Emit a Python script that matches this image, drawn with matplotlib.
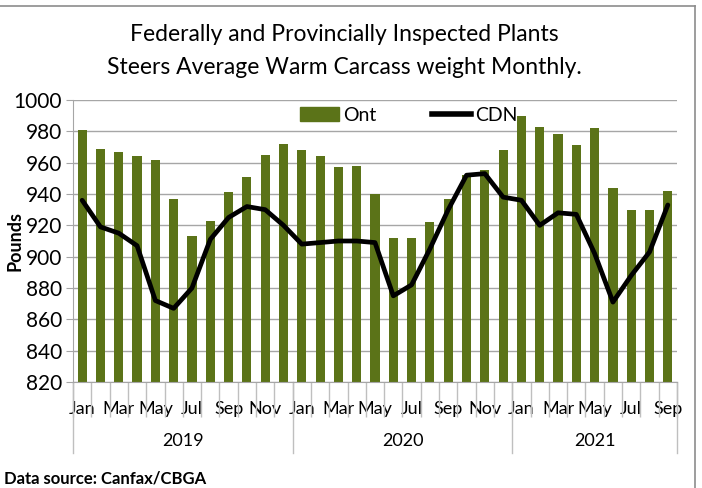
import numpy as np
import matplotlib.pyplot as plt
import matplotlib.transforms as mtransforms
from matplotlib.lines import Line2D
from matplotlib.patches import Patch

plt.rcParams['font.family'] = ['Lato', 'DejaVu Sans']

years = ['2019', '2020', '2021']
months_per_year = [12, 12, 9]
month_names = ['Jan', 'Feb', 'Mar', 'Apr', 'May', 'Jun',
               'Jul', 'Aug', 'Sep', 'Oct', 'Nov', 'Dec']

ont = [981, 969, 967, 964, 962, 937, 913, 923, 941, 951, 965, 972,
       968, 964, 957, 958, 940, 912, 912, 922, 937, 952, 955, 968,
       990, 983, 978, 971, 982, 944, 930, 930, 942]
cdn = [936, 919, 915, 907, 872, 867, 880, 911, 925, 932, 930, 920,
       908, 909, 910, 910, 909, 875, 882, 905, 930, 952, 953, 938,
       936, 920, 928, 927, 902, 871, 888, 903, 933]

labels = []
for n in months_per_year:
    labels += month_names[:n]
x = np.arange(len(ont))

fig = plt.figure(figsize=(7.02, 4.88), dpi=100)
ax = fig.add_axes([73/702, 1-382/488, 604/702, 282/488])

bar_color = '#5B7318'
grid_color = '#A6A6A6'
tick_color = '#BFBFBF'

ax.bar(x, ont, width=0.5, color=bar_color, zorder=2)
ax.plot(x, cdn, color='black', linewidth=3.4, zorder=3, solid_capstyle='round')

ax.set_xlim(-0.5, len(ont) - 0.5)
ax.set_ylim(820, 1000)
ax.set_yticks(np.arange(820, 1001, 20))
ax.yaxis.grid(True, color=grid_color, linewidth=1)
ax.set_axisbelow(True)
ax.tick_params(axis='y', labelsize=15, length=5, color=grid_color, pad=3)

for s in ['top', 'right']:
    ax.spines[s].set_visible(False)
for s in ['left', 'bottom']:
    ax.spines[s].set_color(grid_color)

# month labels every other category, tick marks at category boundaries
ax.set_xticks(x[::2])
ax.set_xticklabels(labels[::2], fontsize=13)
ax.tick_params(axis='x', which='major', length=0, pad=14)
ax.set_xticks(np.arange(-0.5, len(ont), 1), minor=True)
ax.tick_params(axis='x', which='minor', length=25, color=tick_color, width=1)

# year grouping
trans = mtransforms.blended_transform_factory(ax.transData, ax.transAxes)
bounds = np.concatenate([[0], np.cumsum(months_per_year)]) - 0.5
for b in bounds:
    ax.plot([b, b], [0, -0.25], transform=trans, color=tick_color,
            linewidth=1, clip_on=False)
for i, yr in enumerate(years):
    ax.text((bounds[i] + bounds[i+1]) / 2, -0.21, yr, transform=trans,
            ha='center', va='center', fontsize=13)

ax.set_ylabel('Pounds', fontsize=13, fontweight='bold')
ax.yaxis.set_label_coords(-0.082, 0.5)

handles = [Patch(color=bar_color), Line2D([], [], color='black', linewidth=4)]
ax.legend(handles, ['Ont', 'CDN'], loc='center', bbox_to_anchor=(0.556, 0.945),
          ncol=2, frameon=False, fontsize=14, handlelength=2.0,
          columnspacing=2.9, handletextpad=0.2)

fig.text(0.49, 0.93, 'Federally and Provincially Inspected Plants',
         ha='center', va='center', fontsize=16.5)
fig.text(0.49, 0.862, 'Steers Average Warm Carcass weight Monthly.',
         ha='center', va='center', fontsize=16.5)
fig.text(0.005, 0.02, 'Data source: Canfax/CBGA', ha='left', va='center',
         fontsize=12, fontweight='bold')

# chart frame: top and right edges
frame_color = '#8C8C8C'
fig.add_artist(Line2D([0, 695/702], [1-6/488, 1-6/488], transform=fig.transFigure,
                      color=frame_color, linewidth=1.2))
fig.add_artist(Line2D([695/702, 695/702], [1-6/488, 0], transform=fig.transFigure,
                      color=frame_color, linewidth=1.2))

fig.savefig('out.png', dpi=100)
